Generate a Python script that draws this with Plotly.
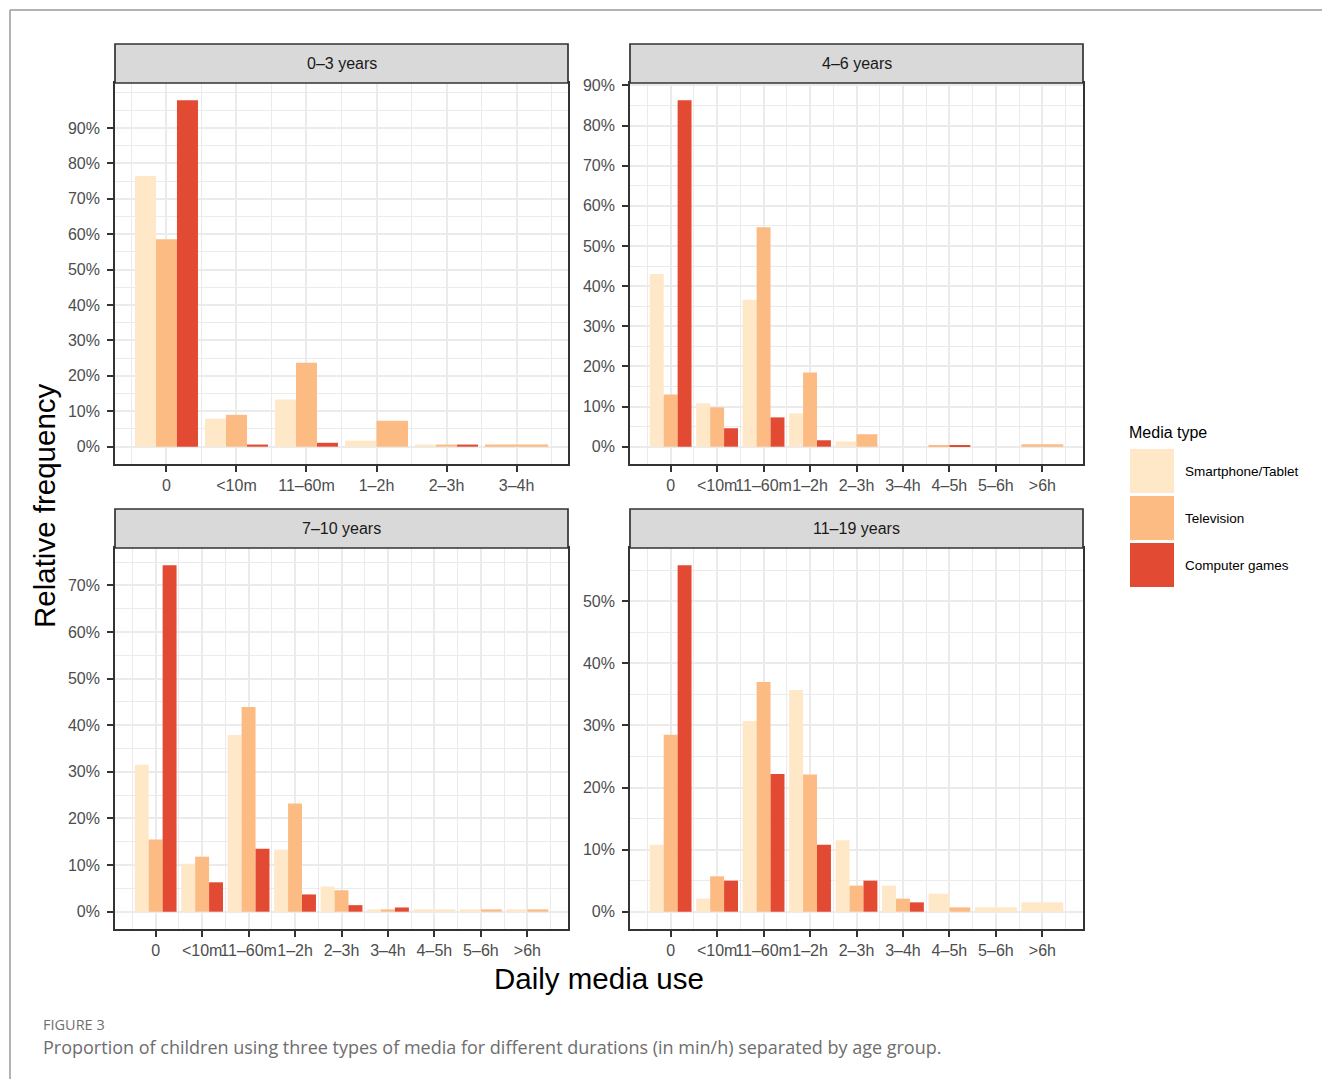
import plotly.graph_objects as go

# ---------------- data ----------------
categories = ["0", "<10m", "11–60m", "1–2h", "2–3h", "3–4h", "4–5h", "5–6h", ">6h"]
age_groups = ["0–3 years", "4–6 years", "7–10 years", "11–19 years"]
media_types = ["Smartphone/Tablet", "Television", "Computer games"]
media_colors = ["#FEE8C8", "#FDBB84", "#E34A33"]
n_categories = [6, 9, 9, 9]

# relative frequency in %, None = no bar
smartphone_0_3 = [76.4, 7.9, 13.3, 1.7, 0.6, None]
television_0_3 = [58.6, 9.0, 23.7, 7.3, 0.6, 0.6]
games_0_3 = [97.8, 0.6, 1.1, None, 0.6, None]

smartphone_4_6 = [43.0, 10.8, 36.6, 8.3, 1.3, None, None, None, None]
television_4_6 = [13.0, 9.8, 54.7, 18.5, 3.1, None, 0.4, None, 0.6]
games_4_6 = [86.3, 4.6, 7.3, 1.6, None, None, 0.4, None, None]

smartphone_7_10 = [31.5, 10.3, 37.9, 13.3, 5.4, 0.5, 0.5, 0.5, 0.5]
television_7_10 = [15.5, 11.8, 43.9, 23.2, 4.6, 0.5, None, 0.5, 0.5]
games_7_10 = [74.3, 6.3, 13.5, 3.7, 1.4, 0.9, None, None, None]

smartphone_11_19 = [10.8, 2.1, 30.7, 35.7, 11.5, 4.2, 2.9, 0.7, 1.5]
television_11_19 = [28.5, 5.7, 37.0, 22.1, 4.2, 2.1, 0.7, None, None]
games_11_19 = [55.8, 5.0, 22.2, 10.8, 5.0, 1.5, None, None, None]

y_tick_values = [
    [0, 10, 20, 30, 40, 50, 60, 70, 80, 90],
    [0, 10, 20, 30, 40, 50, 60, 70, 80, 90],
    [0, 10, 20, 30, 40, 50, 60, 70],
    [0, 10, 20, 30, 40, 50],
]
y_tick_labels = [[f"{v}%" for v in t] for t in y_tick_values]

panel_data = [
    [smartphone_0_3, television_0_3, games_0_3],
    [smartphone_4_6, television_4_6, games_4_6],
    [smartphone_7_10, television_7_10, games_7_10],
    [smartphone_11_19, television_11_19, games_11_19],
]

# ---------------- layout geometry (pixels) ----------------
W, H = 1322, 1079
col_x = [(115, 568), (630, 1083)]
row_y = [(44, 83, 464), (509, 548, 929)]  # strip top, panel top, panel bottom
x_expand = {6: 0.735, 9: 0.875}


def px(x):
    return x / W


def py(y):
    return 1 - y / H


fig = go.Figure()
shapes = []
annotations = []

FONT = "Liberation Sans, Arial, sans-serif"
axis_font = dict(family=FONT, size=16, color="#4D4D4D")
dark = "#333333"
grid = "#EBEBEB"

for p in range(4):
    r, c = divmod(p, 2)
    x0, x1 = col_x[c]
    st, pt, pb = row_y[r]
    n = n_categories[p]
    series = panel_data[p]
    ax = "" if p == 0 else str(p + 1)

    # dodge bars
    for s_idx in range(3):
        xs, ys, ws = [], [], []
        for i in range(n):
            present = [k for k in range(3) if series[k][i] is not None]
            if s_idx not in present:
                continue
            m = len(present)
            w = 0.9 / m
            k = present.index(s_idx)
            xs.append(i - 0.45 + w * (k + 0.5))
            ys.append(series[s_idx][i])
            ws.append(w)
        fig.add_trace(go.Bar(
            x=xs, y=ys, width=ws, name=media_types[s_idx],
            marker=dict(color=media_colors[s_idx], line=dict(width=0)),
            xaxis="x" + ax, yaxis="y" + ax, showlegend=False,
            hovertemplate="%{y:.1f}%<extra>" + media_types[s_idx] + "</extra>",
        ))

    ymax = max(v for sr in series for v in sr if v is not None)
    yr = [-0.05 * ymax, 1.05 * ymax]
    minor_y = [v + 5 for v in range(-10, 110, 10) if yr[0] <= v + 5 <= yr[1]]
    if p == 0:
        minor_y.append(100)
    e = x_expand[n]

    fig.layout["xaxis" + ax] = dict(
        domain=[px(x0), px(x1)], anchor="y" + ax, range=[-e, n - 1 + e],
        tickmode="array", tickvals=list(range(n)), ticktext=categories[:n],
        tickangle=0, ticks="outside", ticklen=6, tickwidth=1.6, tickcolor=dark,
        ticklabelstandoff=0, automargin=False,
        showline=True, linecolor=dark, linewidth=1.7, mirror=True,
        showgrid=True, gridcolor=grid, gridwidth=1.7, zeroline=False,
        minor=dict(tickmode="array", tickvals=[i - 0.5 for i in range(n + 1)], showgrid=True,
                   gridcolor=grid, gridwidth=0.9, ticks=""),
        tickfont=axis_font, fixedrange=True,
    )
    fig.layout["yaxis" + ax] = dict(
        domain=[py(pb), py(pt)], anchor="x" + ax, range=yr,
        tickmode="array", tickvals=y_tick_values[p], ticktext=y_tick_labels[p],
        ticks="outside", ticklen=6, tickwidth=1.6, tickcolor=dark,
        ticklabelstandoff=4, automargin=False,
        showline=True, linecolor=dark, linewidth=1.7, mirror=True,
        showgrid=True, gridcolor=grid, gridwidth=1.7, zeroline=False,
        minor=dict(tickmode="array", tickvals=minor_y, showgrid=True,
                   gridcolor=grid, gridwidth=0.9, ticks=""),
        tickfont=axis_font, fixedrange=True,
    )

    # facet strip
    shapes.append(dict(type="rect", xref="paper", yref="paper",
                       x0=px(x0), x1=px(x1), y0=py(pt), y1=py(st),
                       fillcolor="#D9D9D9", line=dict(color=dark, width=1.7), layer="above"))
    annotations.append(dict(text=age_groups[p], xref="paper", yref="paper",
                            x=px((x0 + x1) / 2), y=py((st + pt) / 2), showarrow=False,
                            xanchor="center", yanchor="middle",
                            font=dict(family=FONT, size=16, color="#1A1A1A")))

# axis titles
annotations.append(dict(text="Relative frequency", xref="paper", yref="paper",
                        x=px(44), y=py(506), textangle=-90, showarrow=False,
                        xanchor="center", yanchor="middle",
                        font=dict(family=FONT, size=29.5, color="#000000")))
annotations.append(dict(text="Daily media use", xref="paper", yref="paper",
                        x=px(599), y=py(978), showarrow=False,
                        xanchor="center", yanchor="middle",
                        font=dict(family=FONT, size=29.5, color="#000000")))

# legend (drawn manually to match large ggplot keys)
annotations.append(dict(text="Media type", xref="paper", yref="paper",
                        x=px(1127), y=py(432), showarrow=False,
                        xanchor="left", yanchor="middle",
                        font=dict(family=FONT, size=16, color="#000000")))
key_tops = [449, 496, 543]
for k in range(3):
    t = key_tops[k]
    shapes.append(dict(type="rect", xref="paper", yref="paper",
                       x0=px(1130), x1=px(1174), y0=py(t + 44), y1=py(t),
                       fillcolor=media_colors[k], line=dict(width=0)))
    annotations.append(dict(text=media_types[k], xref="paper", yref="paper",
                            x=px(1183), y=py(t + 22), showarrow=False,
                            xanchor="left", yanchor="middle",
                            font=dict(family=FONT, size=13.5, color="#000000")))

# caption
annotations.append(dict(text="FIGURE 3", xref="paper", yref="paper",
                        x=px(41), y=py(1024), showarrow=False,
                        xanchor="left", yanchor="middle",
                        font=dict(family="Open Sans, sans-serif", size=14.5, color="#707070")))
annotations.append(dict(text="Proportion of children using three types of media for different durations (in min/h) separated by age group.",
                        xref="paper", yref="paper",
                        x=px(41), y=py(1047), showarrow=False,
                        xanchor="left", yanchor="middle",
                        font=dict(family="Open Sans, sans-serif", size=18, color="#6E6E6E")))

# outer frame
shapes.append(dict(type="line", xref="paper", yref="paper", x0=px(10), x1=1, y0=py(10), y1=py(10),
                   line=dict(color="#9A9A9A", width=1.5)))
shapes.append(dict(type="line", xref="paper", yref="paper", x0=px(10), x1=px(10), y0=py(10), y1=0,
                   line=dict(color="#9A9A9A", width=1.5)))

fig.update_layout(
    width=W, height=H, margin=dict(l=0, r=0, t=0, b=0, pad=0, autoexpand=False),
    paper_bgcolor="white", plot_bgcolor="white",
    barmode="overlay", shapes=shapes, annotations=annotations,
    showlegend=False,
    font=dict(family=FONT),
)

fig.write_html("out.html", config={"displayModeBar": False},
               post_script="document.body.style.margin='0';document.body.style.overflow='hidden';")
